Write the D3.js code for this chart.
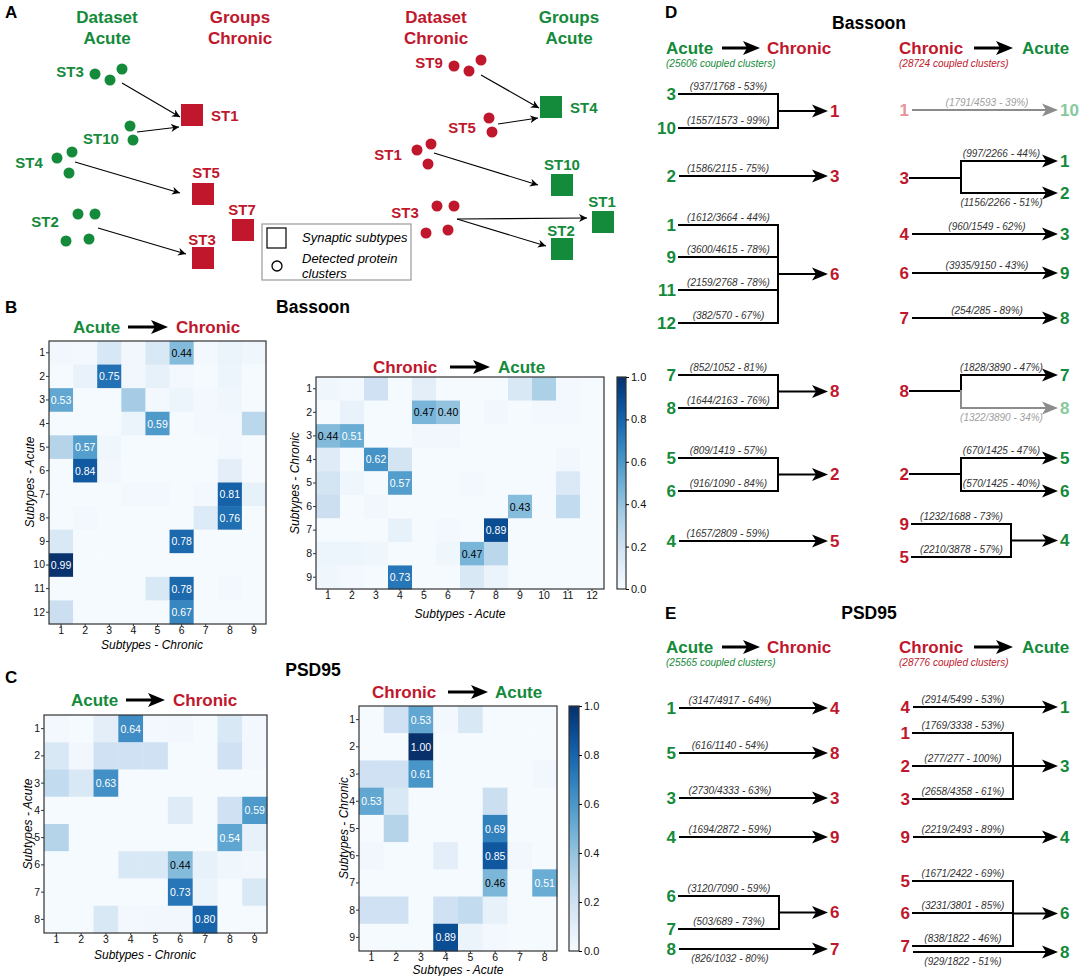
<!DOCTYPE html>
<html>
<head>
<meta charset="utf-8">
<script src="https://cdn.jsdelivr.net/npm/d3@7"></script>
<style>
  body { margin: 0; background: #fff; }
  svg text { font-family: "Liberation Sans", Arial, sans-serif; }
</style>
</head>
<body>
<div id="fig"></div>
<script>
// ---------- data ----------
var ticks8 = [1, 2, 3, 4, 5, 6, 7, 8];
var ticks9 = [1, 2, 3, 4, 5, 6, 7, 8, 9];
var ticks12 = [1, 2, 3, 4, 5, 6, 7, 8, 9, 10, 11, 12];
var cbarTicks = [0, 0.2, 0.4, 0.6, 0.8, 1.0];

// Bassoon, rows = Acute subtypes (12), cols = Chronic subtypes (9)
var bassoonAcuteToChronic = [
  [0.03, 0.02, 0.16, 0.03, 0.15, 0.44, 0.02, 0.06, 0.04],
  [0.01, 0.07, 0.75, 0.03, 0.08, 0.02, 0.01, 0.05, 0.01],
  [0.53, 0.01, 0.01, 0.35, 0.02, 0.05, 0.02, 0.04, 0.01],
  [0.01, 0.01, 0.01, 0.06, 0.59, 0.01, 0.02, 0.02, 0.28],
  [0.30, 0.57, 0.04, 0.01, 0.01, 0.01, 0.01, 0.02, 0.01],
  [0.01, 0.84, 0.03, 0.01, 0.01, 0.01, 0.01, 0.10, 0.01],
  [0.01, 0.01, 0.01, 0.02, 0.02, 0.01, 0.02, 0.81, 0.08],
  [0.01, 0.02, 0.01, 0.01, 0.01, 0.01, 0.13, 0.76, 0.01],
  [0.15, 0.01, 0.01, 0.01, 0.01, 0.78, 0.01, 0.01, 0.01],
  [0.99, 0.01, 0.01, 0.01, 0.01, 0.01, 0.01, 0.01, 0.01],
  [0.01, 0.01, 0.01, 0.01, 0.15, 0.78, 0.01, 0.02, 0.01],
  [0.22, 0.01, 0.01, 0.01, 0.01, 0.67, 0.01, 0.01, 0.01]
];
// Bassoon, rows = Chronic subtypes (9), cols = Acute subtypes (12)
var bassoonChronicToAcute = [
  [0.04, 0.02, 0.20, 0.01, 0.10, 0.01, 0.01, 0.01, 0.15, 0.33, 0.02, 0.01],
  [0.01, 0.07, 0.01, 0.01, 0.47, 0.40, 0.01, 0.03, 0.01, 0.02, 0.02, 0.01],
  [0.44, 0.51, 0.01, 0.01, 0.03, 0.03, 0.01, 0.01, 0.01, 0.01, 0.01, 0.01],
  [0.12, 0.01, 0.62, 0.18, 0.01, 0.01, 0.01, 0.01, 0.01, 0.01, 0.03, 0.01],
  [0.18, 0.04, 0.01, 0.57, 0.01, 0.01, 0.02, 0.01, 0.01, 0.01, 0.14, 0.01],
  [0.22, 0.01, 0.03, 0.01, 0.01, 0.01, 0.01, 0.01, 0.43, 0.01, 0.25, 0.01],
  [0.01, 0.01, 0.01, 0.08, 0.01, 0.02, 0.01, 0.89, 0.01, 0.01, 0.01, 0.01],
  [0.05, 0.05, 0.04, 0.01, 0.01, 0.04, 0.47, 0.28, 0.01, 0.01, 0.01, 0.01],
  [0.04, 0.02, 0.01, 0.73, 0.01, 0.01, 0.15, 0.06, 0.01, 0.01, 0.01, 0.01]
];
// PSD95, rows = Acute (8), cols = Chronic (9)
var psdAcuteToChronic = [
  [0.02, 0.01, 0.10, 0.64, 0.02, 0.03, 0.01, 0.15, 0.02],
  [0.15, 0.03, 0.20, 0.20, 0.20, 0.01, 0.01, 0.20, 0.02],
  [0.25, 0.15, 0.63, 0.01, 0.01, 0.01, 0.01, 0.01, 0.01],
  [0.01, 0.01, 0.01, 0.01, 0.01, 0.12, 0.01, 0.20, 0.59],
  [0.30, 0.01, 0.01, 0.01, 0.01, 0.01, 0.01, 0.54, 0.08],
  [0.01, 0.01, 0.01, 0.15, 0.15, 0.44, 0.08, 0.04, 0.03],
  [0.01, 0.01, 0.01, 0.01, 0.01, 0.73, 0.06, 0.01, 0.15],
  [0.01, 0.01, 0.15, 0.02, 0.03, 0.03, 0.80, 0.01, 0.01]
];
// PSD95, rows = Chronic (9), cols = Acute (8)
var psdChronicToAcute = [
  [0.01, 0.20, 0.53, 0.02, 0.15, 0.01, 0.01, 0.01],
  [0.01, 0.01, 1.00, 0.01, 0.01, 0.01, 0.01, 0.01],
  [0.20, 0.20, 0.61, 0.01, 0.01, 0.01, 0.01, 0.03],
  [0.53, 0.15, 0.01, 0.01, 0.01, 0.22, 0.01, 0.01],
  [0.01, 0.30, 0.01, 0.01, 0.01, 0.69, 0.01, 0.01],
  [0.03, 0.01, 0.01, 0.10, 0.01, 0.85, 0.03, 0.01],
  [0.01, 0.01, 0.01, 0.01, 0.01, 0.46, 0.01, 0.51],
  [0.20, 0.20, 0.01, 0.20, 0.25, 0.08, 0.01, 0.01],
  [0.01, 0.01, 0.01, 0.89, 0.06, 0.02, 0.01, 0.01]
];

// subtype matches: [from, to, coupled, total, percent]
var bassoonAC = [
  [3, 1, 937, 1768, 53], [10, 1, 1557, 1573, 99],
  [2, 3, 1586, 2115, 75],
  [1, 6, 1612, 3664, 44], [9, 6, 3600, 4615, 78], [11, 6, 2159, 2768, 78], [12, 6, 382, 570, 67],
  [7, 8, 852, 1052, 81], [8, 8, 1644, 2163, 76],
  [5, 2, 809, 1419, 57], [6, 2, 916, 1090, 84],
  [4, 5, 1657, 2809, 59]
];
var bassoonCA = [
  [1, 10, 1791, 4593, 39],
  [3, 1, 997, 2266, 44], [3, 2, 1156, 2266, 51],
  [4, 3, 960, 1549, 62],
  [6, 9, 3935, 9150, 43],
  [7, 8, 254, 285, 89],
  [8, 7, 1828, 3890, 47], [8, 8, 1322, 3890, 34],
  [2, 5, 670, 1425, 47], [2, 6, 570, 1425, 40],
  [9, 4, 1232, 1688, 73], [5, 4, 2210, 3878, 57]
];
var psdAC = [
  [1, 4, 3147, 4917, 64], [5, 8, 616, 1140, 54], [3, 3, 2730, 4333, 63], [4, 9, 1694, 2872, 59],
  [6, 6, 3120, 7090, 59], [7, 6, 503, 689, 73],
  [8, 7, 826, 1032, 80]
];
var psdCA = [
  [4, 1, 2914, 5499, 53],
  [1, 3, 1769, 3338, 53], [2, 3, 277, 277, 100], [3, 3, 2658, 4358, 61],
  [9, 4, 2219, 2493, 89],
  [5, 6, 1671, 2422, 69], [6, 6, 3231, 3801, 85], [7, 6, 838, 1822, 46],
  [7, 8, 929, 1822, 51]
];
var coupledTotals = [25606, 28724, 25565, 28776];

// ---------- setup ----------
var GREEN = '#148a3b', RED = '#c0172c';
var GREEN_F = '#86c99d', RED_F = '#e8929b', GREY = '#8c8c8c';

var svg = d3.select('#fig').append('svg')
  .attr('width', 1084).attr('height', 976)
  .style('background', '#fff');

var color = d3.scaleSequential(d3.interpolateBlues).domain([0, 1]);

function label(x, y, s, o) {
  o = o || {};
  return svg.append('text')
    .attr('x', x).attr('y', y).text(s)
    .attr('font-size', o.size || 17)
    .attr('font-weight', o.weight || 'bold')
    .attr('font-style', o.style || 'normal')
    .attr('fill', o.fill || '#000')
    .attr('text-anchor', o.anchor || 'middle')
    .attr('dominant-baseline', 'central');
}

function bigArrow(x1, x2, y) {
  svg.append('line').attr('x1', x1).attr('x2', x2 - 12).attr('y1', y).attr('y2', y)
    .attr('stroke', '#000').attr('stroke-width', 3);
  svg.append('path')
    .attr('d', 'M' + x2 + ',' + y + ' L' + (x2 - 17) + ',' + (y - 7) + ' L' + (x2 - 13) + ',' + y +
      ' L' + (x2 - 17) + ',' + (y + 7) + ' Z')
    .attr('fill', '#000');
}

function title(fromX, arrow, toX, y, acuteFirst) {
  label(fromX, y, acuteFirst ? 'Acute' : 'Chronic', {anchor: 'start', fill: acuteFirst ? GREEN : RED});
  bigArrow(arrow[0], arrow[1], y);
  label(toX, y, acuteFirst ? 'Chronic' : 'Acute', {anchor: 'start', fill: acuteFirst ? RED : GREEN});
}

// ---------- panel A ----------
svg.append('defs').append('marker')
  .attr('id', 'ah').attr('viewBox', '0 0 10 10').attr('refX', 10).attr('refY', 5)
  .attr('markerWidth', 8).attr('markerHeight', 8).attr('markerUnits', 'userSpaceOnUse')
  .attr('orient', 'auto')
  .append('path').attr('d', 'M0,0 L10,5 L0,10 L3,5 Z').attr('fill', '#000');

label(5, 12, 'A', {anchor: 'start'});
[[107, 'Dataset', 'Acute', GREEN], [240, 'Groups', 'Chronic', RED],
 [436, 'Dataset', 'Chronic', RED], [569, 'Groups', 'Acute', GREEN]].forEach(function(h) {
  label(h[0], 17, h[1], {fill: h[3]});
  label(h[0], 38, h[2], {fill: h[3]});
});

// clusters: name, label pos, dots, colour
var clusterGroups = [
  ['ST3', [70, 71], [[95, 74], [110, 80], [122, 69]], GREEN],
  ['ST10', [101, 138], [[130, 126], [133, 140]], GREEN],
  ['ST4', [29, 162], [[57, 158], [72, 152], [69, 173]], GREEN],
  ['ST2', [45, 221], [[78, 214], [95, 214], [66, 241], [89, 239]], GREEN],
  ['ST9', [429, 62], [[454, 66], [469, 71], [481, 60]], RED],
  ['ST5', [462, 127], [[489, 118], [492, 132]], RED],
  ['ST1', [388, 154], [[417, 150], [431, 144], [428, 164]], RED],
  ['ST3', [405, 212], [[437, 206], [454, 206], [426, 233], [448, 230]], RED]
];
clusterGroups.forEach(function(c) {
  label(c[1][0], c[1][1], c[0], {size: 15, fill: c[3]});
  c[2].forEach(function(p) {
    svg.append('circle').attr('cx', p[0]).attr('cy', p[1]).attr('r', 5.5).attr('fill', c[3]);
  });
});
var subtypeBoxes = [
  ['ST1', [181, 104], [211, 115, 'start'], RED],
  ['ST5', [192, 183], [206, 172, 'middle'], RED],
  ['ST7', [232, 219], [242, 209, 'middle'], RED],
  ['ST3', [192, 247], [202, 239, 'middle'], RED],
  ['ST4', [540, 96], [570, 107, 'start'], GREEN],
  ['ST10', [551, 174], [562, 164, 'middle'], GREEN],
  ['ST1', [592, 211], [602, 201, 'middle'], GREEN],
  ['ST2', [551, 238], [561, 230, 'middle'], GREEN]
];
subtypeBoxes.forEach(function(b) {
  svg.append('rect').attr('x', b[1][0]).attr('y', b[1][1]).attr('width', 22).attr('height', 22).attr('fill', b[3]);
  label(b[2][0], b[2][1], b[0], {size: 15, fill: b[3], anchor: b[2][2]});
});
[[122, 83, 180, 117], [137, 132, 179, 127], [75, 162, 180, 193], [98, 228, 186, 254],
 [481, 75, 539, 108], [498, 124, 538, 118], [434, 153, 538, 185], [457, 219, 587, 218], [457, 219, 546, 246]]
  .forEach(function(a) {
    svg.append('line').attr('x1', a[0]).attr('y1', a[1]).attr('x2', a[2]).attr('y2', a[3])
      .attr('stroke', '#000').attr('stroke-width', 1.1).attr('marker-end', 'url(#ah)');
  });
svg.append('rect').attr('x', 262).attr('y', 224).attr('width', 149).attr('height', 56)
  .attr('fill', '#fff').attr('stroke', '#999').attr('stroke-width', 1.2);
svg.append('rect').attr('x', 267).attr('y', 228).attr('width', 19).attr('height', 20)
  .attr('fill', '#fff').attr('stroke', '#000').attr('stroke-width', 1.2);
svg.append('circle').attr('cx', 277).attr('cy', 266).attr('r', 5).attr('fill', '#fff')
  .attr('stroke', '#000').attr('stroke-width', 1.3);
label(302, 237, 'Synaptic subtypes', {size: 13, weight: 'normal', style: 'italic', anchor: 'start'});
label(302, 258, 'Detected protein', {size: 13, weight: 'normal', style: 'italic', anchor: 'start'});
label(302, 273, 'clusters', {size: 13, weight: 'normal', style: 'italic', anchor: 'start'});

// ---------- heatmaps (B, C) ----------
function heatmap(m, rows, cols, box, xTitle, yTitle, xtPos, ytPos) {
  var g = svg.append('g');
  var x = d3.scaleBand().domain(cols).range([box.x, box.x + box.w]);
  var y = d3.scaleBand().domain(rows).range([box.y, box.y + box.h]);
  var cells = [];
  m.forEach(function(row, i) {
    row.forEach(function(v, j) { cells.push({r: rows[i], c: cols[j], v: v}); });
  });
  g.selectAll('rect.cell').data(cells).enter().append('rect')
    .attr('class', 'cell')
    .attr('x', function(d) { return x(d.c); })
    .attr('y', function(d) { return y(d.r); })
    .attr('width', x.bandwidth() + 0.4)
    .attr('height', y.bandwidth() + 0.4)
    .attr('fill', function(d) { return color(d.v); });
  g.selectAll('text.val').data(cells.filter(function(d) { return d.v >= 0.4; })).enter().append('text')
    .attr('class', 'val')
    .attr('x', function(d) { return x(d.c) + x.bandwidth() / 2; })
    .attr('y', function(d) { return y(d.r) + y.bandwidth() / 2; })
    .attr('text-anchor', 'middle').attr('dominant-baseline', 'central')
    .attr('font-size', 10.5)
    .attr('fill', function(d) { return d.v > 0.5 ? '#fff' : '#000'; })
    .text(function(d) { return d.v.toFixed(2); });
  g.append('rect').attr('x', box.x).attr('y', box.y).attr('width', box.w).attr('height', box.h)
    .attr('fill', 'none').attr('stroke', '#333').attr('stroke-width', 1.2);
  var ax = g.append('g').attr('transform', 'translate(0,' + (box.y + box.h) + ')')
    .call(d3.axisBottom(x).tickSize(2).tickPadding(1));
  var ay = g.append('g').attr('transform', 'translate(' + box.x + ',0)')
    .call(d3.axisLeft(y).tickSize(3).tickPadding(1));
  [ax, ay].forEach(function(a) {
    a.select('.domain').remove();
    a.attr('font-family', null);
    a.selectAll('text').attr('font-size', 10.5).attr('fill', '#111');
    a.selectAll('line').attr('stroke', '#333');
  });
  label(xtPos[0], xtPos[1], xTitle, {size: 12, weight: 'normal', style: 'italic'});
  label(ytPos[0], ytPos[1], yTitle, {size: 12, weight: 'normal', style: 'italic'})
    .attr('transform', 'rotate(-90,' + ytPos[0] + ',' + ytPos[1] + ')');
}

function colorbar(id, box) {
  var grad = svg.select('defs').append('linearGradient').attr('id', id)
    .attr('x1', 0).attr('x2', 0).attr('y1', 1).attr('y2', 0);
  d3.range(0, 1.0001, 0.05).forEach(function(t) {
    grad.append('stop').attr('offset', t).attr('stop-color', color(t));
  });
  svg.append('rect').attr('x', box.x).attr('y', box.y).attr('width', box.w).attr('height', box.h)
    .attr('fill', 'url(#' + id + ')').attr('stroke', '#333').attr('stroke-width', 1.2);
  var s = d3.scaleLinear().domain([0, 1]).range([box.y + box.h, box.y]);
  var a = svg.append('g').attr('transform', 'translate(' + (box.x + box.w) + ',0)')
    .call(d3.axisRight(s).tickValues(cbarTicks).tickFormat(d3.format('.1f')).tickSize(3).tickPadding(2));
  a.select('.domain').remove();
  a.attr('font-family', null);
  a.selectAll('text').attr('font-size', 11).attr('fill', '#111');
}

label(5, 307, 'B', {anchor: 'start'});
label(313, 307, 'Bassoon', {size: 17.5});
title(73, [128, 168], 176, 327, true);
heatmap(bassoonAcuteToChronic, ticks12, ticks9, {x: 49, y: 341, w: 217, h: 283},
  'Subtypes - Chronic', 'Subtypes - Acute', [152, 645], [30, 482]);
title(373, [450, 490], 498, 367, false);
heatmap(bassoonChronicToAcute, ticks9, ticks12, {x: 316, y: 377, w: 288, h: 212},
  'Subtypes - Acute', 'Subtypes - Chronic', [460, 614], [295, 483]);
colorbar('cb1', {x: 617, y: 377, w: 9, h: 212});

label(5, 677, 'C', {anchor: 'start'});
label(313, 670, 'PSD95', {size: 17.5});
title(71, [126, 165], 173, 700, true);
heatmap(psdAcuteToChronic, ticks8, ticks9, {x: 44, y: 715, w: 223, h: 218},
  'Subtypes - Chronic', 'Subtypes - Acute', [145, 955], [28, 824]);
title(372, [448, 488], 495, 692, false);
heatmap(psdChronicToAcute, ticks9, ticks8, {x: 359, y: 706, w: 198, h: 245},
  'Subtypes - Acute', 'Subtypes - Chronic', [458, 970], [344, 828]);
colorbar('cb2', {x: 569, y: 706, w: 10, h: 245});

// ---------- flow diagrams (D, E) ----------
function flowArrow(x1, x2, y, col) {
  svg.append('line').attr('x1', x1).attr('x2', x2 - 10).attr('y1', y).attr('y2', y)
    .attr('stroke', col).attr('stroke-width', 2);
  svg.append('path')
    .attr('d', 'M' + x2 + ',' + y + ' L' + (x2 - 16) + ',' + (y - 6.5) + ' L' + (x2 - 12) + ',' + y +
      ' L' + (x2 - 16) + ',' + (y + 6.5) + ' Z')
    .attr('fill', col);
}
function seg(x1, y1, x2, y2, col) {
  svg.append('line').attr('x1', x1).attr('y1', y1).attr('x2', x2).attr('y2', y2)
    .attr('stroke', col).attr('stroke-width', 2).attr('stroke-linecap', 'square');
}
function note(x, y, l, below, faded) {
  label(x, below ? y + 9 : y - 8, '(' + l[2] + '/' + l[3] + ' - ' + l[4] + '%)',
    {size: 10, weight: 'normal', style: 'italic', fill: faded ? '#a0a0a0' : '#333'});
}

function flow(links, lay, acuteFirst) {
  var sc = acuteFirst ? GREEN : RED, tc = acuteFirst ? RED : GREEN;
  var scF = acuteFirst ? GREEN_F : RED_F, tcF = acuteFirst ? RED_F : GREEN_F;
  var i = 0;
  lay.groups.forEach(function(gr) {
    var ls = links.slice(i, i + gr.ys.length);
    i += gr.ys.length;
    var bx = gr.bx || lay.bx;
    var fad = gr.faded || [], below = gr.below || [];
    if (gr.k === 's') {
      var l = ls[0], y = gr.ys[0], f = fad[0];
      flowArrow(lay.x0, lay.tip, y, f ? GREY : '#000');
      if (!gr.noSrc) label(lay.x0 - 3, y, l[0], {anchor: 'end', fill: f ? scF : sc});
      label(lay.tip + 2, y, l[1], {anchor: 'start', fill: f ? tcF : tc});
      note(lay.lx, y, l, below[0], f);
    } else if (gr.k === 'm') {
      ls.forEach(function(l, k) {
        seg(lay.x0, gr.ys[k], bx, gr.ys[k], '#000');
        label(lay.x0 - 3, gr.ys[k], l[0], {anchor: 'end', fill: sc});
        note((lay.x0 + bx) / 2, gr.ys[k], l, false, false);
      });
      var y0 = gr.ys[0], y1 = gr.ys[gr.ys.length - 1], ym = (y0 + y1) / 2;
      seg(bx, y0, bx, y1, '#000');
      flowArrow(bx, lay.tip, ym, '#000');
      label(lay.tip + 2, ym, ls[0][1], {anchor: 'start', fill: tc});
    } else {
      seg(lay.x0 - 2, gr.sy, bx, gr.sy, '#000');
      label(lay.x0 - 3, gr.sy, ls[0][0], {anchor: 'end', fill: sc});
      ls.forEach(function(l, k) {
        var f = fad[k], col = f ? GREY : '#000';
        seg(bx, gr.sy, bx, gr.ys[k], col);
        flowArrow(bx, lay.tip, gr.ys[k], col);
        label(lay.tip + 2, gr.ys[k], l[1], {anchor: 'start', fill: f ? tcF : tc});
        note((bx + lay.tip) / 2 - 8, gr.ys[k], l, below[k], f);
      });
    }
  });
}

function flowHeader(y, totals) {
  title(666, [722, 760], 767, y, true);
  title(899, [974, 1013], 1022, y, false);
  label(666, y + 15, '(' + totals[0] + ' coupled clusters)',
    {size: 10, weight: 'normal', style: 'italic', fill: GREEN, anchor: 'start'});
  label(899, y + 15, '(' + totals[1] + ' coupled clusters)',
    {size: 10, weight: 'normal', style: 'italic', fill: RED, anchor: 'start'});
}

label(665, 12, 'D', {anchor: 'start'});
label(869, 23, 'Bassoon', {size: 17.5});
flowHeader(48, coupledTotals.slice(0, 2));
flow(bassoonAC, {x0: 679, bx: 778, tip: 828, lx: 728, groups: [
  {k: 'm', ys: [94, 128]},
  {k: 's', ys: [176]},
  {k: 'm', ys: [225, 257, 290, 323]},
  {k: 'm', ys: [375, 408]},
  {k: 'm', ys: [458, 491]},
  {k: 's', ys: [541]}
]}, true);
flow(bassoonCA, {x0: 912, bx: 961, tip: 1058, lx: 987, groups: [
  {k: 's', ys: [110], faded: [true]},
  {k: 'p', ys: [161, 193], sy: 178, below: [false, true]},
  {k: 's', ys: [234]},
  {k: 's', ys: [273]},
  {k: 's', ys: [318]},
  {k: 'p', ys: [375, 408], sy: 391, below: [false, true], faded: [false, true]},
  {k: 'p', ys: [458, 491], sy: 474},
  {k: 'm', ys: [524, 557], bx: 1011}
]}, false);

label(665, 613, 'E', {anchor: 'start'});
label(869, 613, 'PSD95', {size: 17.5});
flowHeader(647, coupledTotals.slice(2, 4));
flow(psdAC, {x0: 679, bx: 779, tip: 828, lx: 730, groups: [
  {k: 's', ys: [708]},
  {k: 's', ys: [753]},
  {k: 's', ys: [798]},
  {k: 's', ys: [837]},
  {k: 'm', ys: [896, 929]},
  {k: 's', ys: [949], below: [true]}
]}, true);
flow(psdCA, {x0: 913, bx: 1013, tip: 1058, lx: 963, groups: [
  {k: 's', ys: [707]},
  {k: 'm', ys: [733, 766, 799]},
  {k: 's', ys: [837]},
  {k: 'm', ys: [881, 913, 946]},
  {k: 's', ys: [952], below: [true], noSrc: true}
]}, false);
</script>
</body>
</html>
